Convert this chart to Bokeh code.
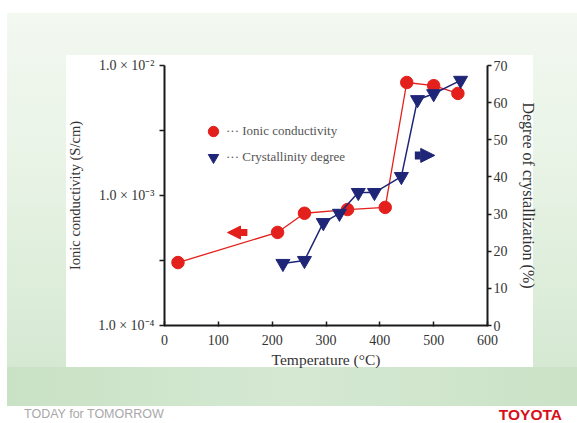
from bokeh.plotting import figure
from bokeh.layouts import column
from bokeh.models import (LinearAxis, LinearScale, Range1d, FixedTicker, Legend, LegendItem,
                          Arrow, NormalHead, Div)
from bokeh.embed import file_html
from bokeh.resources import INLINE

# ---------------- data ----------------
temp_ionic = [25, 210, 260, 340, 410, 450, 500, 545]
ionic_conductivity = [3.05e-4, 5.2e-4, 7.3e-4, 7.8e-4, 8.1e-4, 7.4e-3, 7.0e-3, 6.1e-3]

temp_cryst = [220, 260, 295, 325, 360, 390, 440, 470, 500, 550]
crystallinity = [16.7, 17.5, 27.7, 30.2, 35.8, 35.8, 40.1, 60.8, 62.4, 66.0]

x_ticks = [0, 100, 200, 300, 400, 500, 600]
left_ticks = [1e-4, 1e-3, 1e-2]
left_minor_ticks = [10 ** -3.5, 10 ** -2.5]
left_tick_labels = ["1.0 × 10⁻⁴", "1.0 × 10⁻³", "1.0 × 10⁻²"]
right_ticks = [0, 10, 20, 30, 40, 50, 60, 70]

legend_labels = ["··· Ionic conductivity", "··· Crystallinity degree"]
x_title = "Temperature (°C)"
left_title = "Ionic conductivity (S/cm)"
right_title = "Degree of crystallization (%)"
footer_texts = ["TODAY for TOMORROW", "TOYOTA"]

# arrow annotations: (x_start, y_start, x_end, y_end)
red_arrow = (154, 10 ** -3.285, 117, 10 ** -3.285)
navy_arrow = (465, 45.8, 502, 45.8)

RED = "#e3201b"
NAVY = "#1f2678"
SERIF = "Liberation Serif"
TXT = "#333333"

W, H_MAIN, H_FOOT = 577, 406, 17

p = figure(width=W, height=H_MAIN, x_range=Range1d(0, 600), y_range=Range1d(1e-4, 1e-2),
           y_axis_type="log", output_backend="svg", toolbar_location=None,
           min_border_left=164, min_border_right=90, min_border_top=65,
           min_border_bottom=81)
p.outline_line_color = None
p.grid.visible = False
p.background_fill_color = None
p.border_fill_color = None

# slide-like background painted behind the transparent canvas
p.styles = {
    "background-color": "white",
    "background-image": ", ".join([
        "linear-gradient(#ffffff, #ffffff)",
        "linear-gradient(to right, #c9e1c5, #d5e9d2 50%, #cbe2c7)",
        "linear-gradient(to bottom, #f3f8f1 0%, #e8f3e5 45%, #d5e9d2 100%)",
    ]),
    "background-position": "66px 55px, 7px 367px, 7px 13px",
    "background-size": "467px 312px, 570px 39px, 570px 354px",
    "background-repeat": "no-repeat",
}

# ---------------- axes ----------------
def style_axis(ax, title_size):
    ax.axis_line_color = "#1a1a1a"
    ax.axis_line_width = 2
    ax.major_tick_line_color = "#1a1a1a"
    ax.minor_tick_line_color = "#1a1a1a"
    ax.major_tick_line_width = 1.5
    ax.minor_tick_line_width = 1.5
    ax.major_label_text_font = SERIF
    ax.major_label_text_font_size = "14px"
    ax.major_label_text_color = TXT
    ax.axis_label_text_font = SERIF
    ax.axis_label_text_font_size = title_size
    ax.axis_label_text_font_style = "normal"
    ax.axis_label_text_color = TXT

xa = p.xaxis[0]
style_axis(xa, "15.5px")
xa.ticker = FixedTicker(ticks=x_ticks, minor_ticks=[])
xa.major_tick_in = 4
xa.major_tick_out = 1
xa.major_label_standoff = 8
xa.axis_label = x_title
xa.axis_label_standoff = 3

ya = p.yaxis[0]
style_axis(ya, "14.5px")
ya.ticker = FixedTicker(ticks=left_ticks, minor_ticks=left_minor_ticks)
ya.major_label_overrides = dict(zip(left_ticks, left_tick_labels))
ya.major_tick_in = 0
ya.major_tick_out = 5
ya.minor_tick_in = 0
ya.minor_tick_out = 5
ya.major_label_standoff = 5
ya.axis_label = left_title
ya.axis_label_standoff = 12

p.extra_y_ranges = {"cryst": Range1d(0, 70)}
p.extra_y_scales = {"cryst": LinearScale()}
ra = LinearAxis(y_range_name="cryst")
style_axis(ra, "16px")
ra.ticker = FixedTicker(ticks=right_ticks, minor_ticks=[])
ra.major_tick_in = 0
ra.major_tick_out = 4
ra.major_label_standoff = 2
ra.axis_label = right_title
ra.axis_label_standoff = 9
p.add_layout(ra, "right")

# ---------------- series ----------------
p.line(temp_ionic, ionic_conductivity, line_color=RED, line_width=1.3)
r_red = p.scatter(temp_ionic, ionic_conductivity, marker="circle", size=12.5,
                  fill_color=RED, line_color=RED)

p.line(temp_cryst, crystallinity, line_color=NAVY, line_width=1.5, y_range_name="cryst")
r_blue = p.scatter(temp_cryst, crystallinity, marker="inverted_triangle", size=14,
                   fill_color=NAVY, line_color=NAVY, y_range_name="cryst")

# ---------------- arrows ----------------
p.add_layout(Arrow(end=NormalHead(size=13, fill_color=RED, line_color=RED),
                   x_start=red_arrow[0], y_start=red_arrow[1],
                   x_end=red_arrow[2], y_end=red_arrow[3],
                   line_color=RED, line_width=7))
p.add_layout(Arrow(end=NormalHead(size=14, fill_color=NAVY, line_color=NAVY),
                   x_start=navy_arrow[0], y_start=navy_arrow[1],
                   x_end=navy_arrow[2], y_end=navy_arrow[3],
                   line_color=NAVY, line_width=8, y_range_name="cryst"))

# ---------------- legend ----------------
legend = Legend(items=[LegendItem(label=legend_labels[0], renderers=[r_red]),
                       LegendItem(label=legend_labels[1], renderers=[r_blue])],
                location=(36, 155), padding=0, margin=0, spacing=0,
                glyph_width=26, glyph_height=26, label_height=26,
                label_standoff=-7, border_line_color=None,
                background_fill_alpha=0, label_text_font=SERIF,
                label_text_font_size="13px", label_text_color="#555555")
p.add_layout(legend)

# ---------------- footer strip ----------------
footer_html = (
    '<div style="position:relative;width:%dpx;height:%dpx;">'
    '<span style="position:absolute;left:24px;top:0;line-height:17px;'
    'font-family:\'Liberation Sans\';font-size:12.5px;color:#a8a8a8;">%s</span>'
    '<span style="position:absolute;right:15px;top:0;line-height:17px;'
    'font-family:\'Liberation Sans\';font-size:15.5px;font-weight:bold;color:#d8101c;">%s</span>'
    '</div>' % (W, H_FOOT, footer_texts[0], footer_texts[1])
)
footer = Div(text=footer_html, width=W, height=H_FOOT,
             styles={"margin": "0", "padding": "0", "overflow": "hidden",
                     "background-color": "white"})

layout = column(p, footer, spacing=0)
open("out.html", "w").write(file_html(layout, INLINE))
